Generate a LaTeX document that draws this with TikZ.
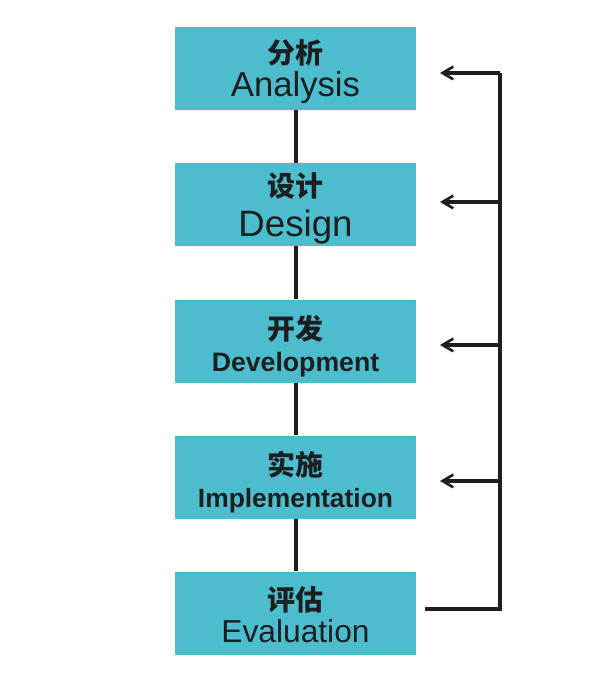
\documentclass[tikz,border=0pt]{standalone}
\usepackage{fontspec}
\setmainfont{Liberation Sans}
\newfontfamily\cjk{Noto Sans CJK SC}
\usetikzlibrary{arrows.meta}
\definecolor{boxteal}{RGB}{76,189,204}
\definecolor{ink}{RGB}{28,30,32}

\begin{document}
\begin{tikzpicture}[x=0.75pt,y=-0.75pt,
  phase/.style={fill=boxteal,minimum width=180.75pt,minimum height=62.25pt,inner sep=0pt},
  cn/.style={anchor=base,inner sep=0pt,text=ink,font=\cjk\bfseries\fontsize{21}{24}\selectfont},
  en/.style={anchor=base,inner sep=0pt,text=ink},
  chain/.style={draw=ink,line width=3pt},
  link/.style={draw=ink,line width=2.5pt},
  fbarrow/.style={-{Straight Barb[length=8pt,width=9.5pt,line width=2pt]}}]
\useasboundingbox (0,0) rectangle (600,692);
% phases
\node[phase] (ana) at (295.5,68.5) {};
\node[phase] (des) at (295.5,204.5) {};
\node[phase] (dev) at (295.5,341) {};
\node[phase] (imp) at (295.5,477) {};
\node[phase] (eva) at (295.5,613) {};
% labels
\node[cn] (ana-cn) at (295.5,63.5) {分析};
\node[en,font=\fontsize{26}{28}\selectfont] (ana-en) at (295.5,97) {Analysis};
\node[cn] (des-cn) at (295.5,196.5) {设计};
\node[en,font=\fontsize{27.5}{30}\selectfont] (des-en) at (295.5,236) {Design};
\node[cn] (dev-cn) at (295.5,339) {开发};
\node[en,font=\bfseries\fontsize{20}{24}\selectfont] (dev-en) at (295.5,371) {Development};
\node[cn] (imp-cn) at (295.5,475) {实施};
\node[en,font=\bfseries\fontsize{19.8}{24}\selectfont] (imp-en) at (295.5,507) {Implementation};
\node[cn] (eva-cn) at (295.5,610) {评估};
\node[en,font=\fontsize{23.8}{26}\selectfont] (eva-en) at (295.5,642) {Evaluation};
% chain
\draw[chain] (ana) -- (des);
\draw[chain] (des) -- (dev);
\draw[chain] (dev) -- (imp);
\draw[chain] (imp) -- (eva);
% feedback
\coordinate (e5) at (425,609);
\coordinate (c5) at (500,609);
\coordinate (c1) at (500,73);
\draw[link] (e5) -- (c5) -- (c1);
\foreach \i/\y in {1/73,2/202,3/345,4/481} {
  \coordinate (r\i) at (500,\y);
  \coordinate (t\i) at (440,\y);
  \draw[link,fbarrow] (r\i) -- (t\i);
}
\end{tikzpicture}
\end{document}
